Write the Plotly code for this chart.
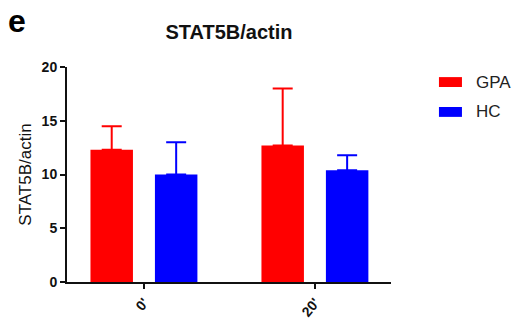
import plotly.graph_objects as go

categories = ["0'", "20'"]
series_names = ["GPA", "HC"]
series_colors = ["#FF0000", "#0000FF"]
means = {"GPA": [12.3, 12.7], "HC": [10.0, 10.4]}
sem = {"GPA": [2.2, 5.3], "HC": [3.0, 1.4]}
y_ticks = [0, 5, 10, 15, 20]

FONT = "Liberation Sans, Arial, sans-serif"

fig = go.Figure()
for name, color in zip(series_names, series_colors):
    fig.add_trace(go.Bar(
        name=name, x=categories, y=means[name],
        marker=dict(color=color, line=dict(width=0)),
        error_y=dict(type="data", array=sem[name], arrayminus=[0] * len(categories),
                     symmetric=False, color=color, thickness=2, width=10),
        showlegend=False,
    ))

# legend drawn manually (wide swatches as in reference)
leg_y = [0.930, 0.791]
for name, color, yy in zip(series_names, series_colors, leg_y):
    fig.add_shape(type="rect", xref="paper", yref="paper",
                  x0=1.148, x1=1.219, y0=yy - 0.023, y1=yy + 0.023,
                  fillcolor=color, line=dict(width=0))
    fig.add_annotation(text=name, xref="paper", yref="paper", x=1.255, y=yy,
                       xanchor="left", yanchor="middle", showarrow=False,
                       font=dict(family=FONT, size=17, color="#222"))

fig.add_annotation(text="<b>e</b>", xref="paper", yref="paper", x=-0.187, y=1.212,
                   xanchor="left", yanchor="middle", showarrow=False,
                   font=dict(family=FONT, size=32, color="black"))

fig.update_layout(
    width=519, height=326,
    margin=dict(l=67, r=128, t=67, b=44, autoexpand=False),
    paper_bgcolor="white", plot_bgcolor="white",
    barmode="group", bargap=0.246, bargroupgap=0.341,
    title=dict(text="<b>STAT5B/actin</b>", x=0.5, xanchor="center", xref="paper",
               y=0.902, yanchor="middle",
               font=dict(family=FONT, size=20, color="#111")),
    font=dict(family=FONT, color="#111"),
)
fig.update_xaxes(
    range=[-0.45, 1.445], showline=True, linecolor="#111", linewidth=2,
    ticks="outside", ticklen=5, tickwidth=2, tickcolor="#111", tickangle=-50,
    tickfont=dict(family=FONT, size=14, color="#111"), showgrid=False, zeroline=False,
    automargin=False,
)
fig.update_yaxes(
    range=[0, 20], tickvals=y_ticks, ticktext=[f"<b>{v}</b>" for v in y_ticks],
    showline=True, linecolor="#111", linewidth=2,
    ticks="outside", ticklen=5, tickwidth=2, tickcolor="#111",
    tickfont=dict(family=FONT, size=14, color="#111"), showgrid=False, zeroline=False,
    title=dict(text="STAT5B/actin", font=dict(family=FONT, size=17, color="#111"), standoff=6),
    automargin=False,
)
fig.update_xaxes(ticktext=[f"<b>{c}</b>" for c in categories], tickvals=categories)

fig.write_html("out.html", config={"displayModeBar": False},
               post_script="document.body.style.margin='0';document.body.style.overflow='hidden';")
